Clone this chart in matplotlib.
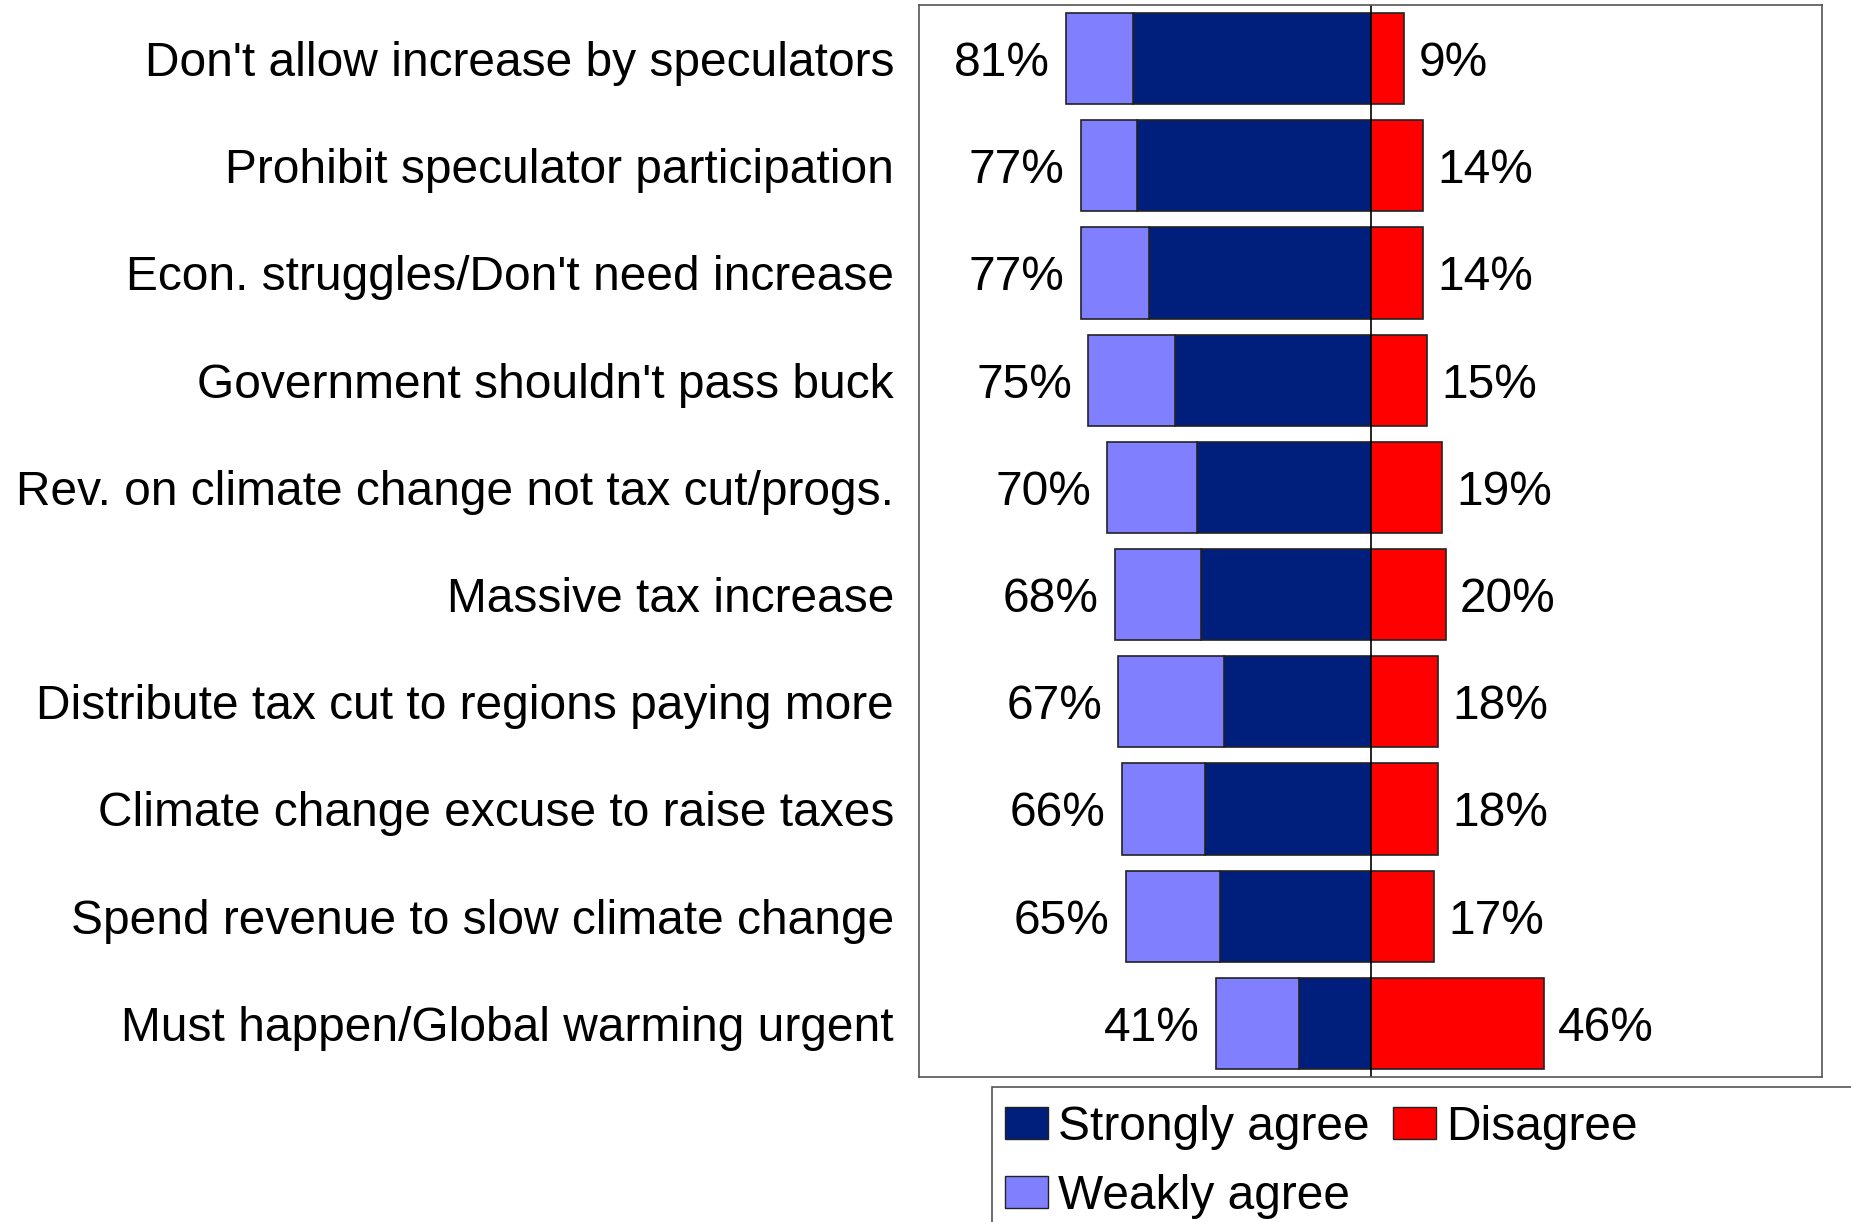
import numpy as np
import matplotlib.pyplot as plt
import matplotlib.patches as mpatches

plt.rcParams['font.family'] = ['Liberation Sans', 'DejaVu Sans']

# survey items, top to bottom
items = ["Don't allow increase by speculators",
         "Prohibit speculator participation",
         "Econ. struggles/Don't need increase",
         "Government shouldn't pass buck",
         "Rev. on climate change not tax cut/progs.",
         "Massive tax increase",
         "Distribute tax cut to regions paying more",
         "Climate change excuse to raise taxes",
         "Spend revenue to slow climate change",
         "Must happen/Global warming urgent"]
strongly = [63, 62, 59, 52, 46, 45, 39, 44, 40, 19]
weakly = [18, 15, 18, 23, 24, 23, 28, 22, 25, 22]
disagree = [9, 14, 14, 15, 19, 20, 18, 18, 17, 46]
agree_total = [81, 77, 77, 75, 70, 68, 67, 66, 65, 41]

C_STRONG = '#001F7C'
C_WEAK = '#8080FF'
C_DIS = '#FF0000'
FS = 34.5

fig = plt.figure(figsize=(18.51, 12.22), dpi=100)
ax = fig.add_axes([919 / 1851, 1 - 1077 / 1222, 903 / 1851, 1072 / 1222])

y = np.arange(len(items))
s = np.array(strongly)
w = np.array(weakly)
d = np.array(disagree)
h = 0.85
ax.barh(y, -s, height=h, color=C_STRONG, edgecolor='#222222', linewidth=1.2)
ax.barh(y, -w, left=-s, height=h, color=C_WEAK, edgecolor='#222222', linewidth=1.2)
ax.barh(y, d, height=h, color=C_DIS, edgecolor='#222222', linewidth=1.2)

ax.axvline(0, color='black', linewidth=1.2)

for i in range(len(items)):
    ax.text(-(s[i] + w[i]) - 4.3, y[i], '{}%'.format(agree_total[i]),
            ha='right', va='center_baseline', fontsize=FS)
    ax.text(d[i] + 3.8, y[i], '{}%'.format(d[i]),
            ha='left', va='center_baseline', fontsize=FS)

ax.set_xlim(-120, 120)
ax.set_ylim(len(items) - 0.5, -0.5)
ax.set_xticks([])
ax.set_yticks(y)
ax.set_yticklabels(items, fontsize=FS)
ax.tick_params(axis='y', length=0, pad=18)
for sp in ax.spines.values():
    sp.set_color('#555555')
    sp.set_linewidth(1.2)

# legend box running off the figure edge
box = mpatches.Rectangle((992 / 1851, -0.1), 1.0, 1 - 1087 / 1222 + 0.1,
                         transform=fig.transFigure, facecolor='white',
                         edgecolor='#555555', linewidth=1.2, clip_on=False)
fig.patches.append(box)

handles = [mpatches.Patch(facecolor=C_STRONG, edgecolor='#222222', label='Strongly agree'),
           mpatches.Patch(facecolor=C_WEAK, edgecolor='#222222', label='Weakly agree'),
           mpatches.Patch(facecolor=C_DIS, edgecolor='#222222', label='Disagree')]
fig.legend(handles=handles, ncol=2, loc='upper left',
           bbox_to_anchor=(1005 / 1851, 1 - 1105 / 1222), frameon=False,
           fontsize=FS, handlelength=0.9, handleheight=0.65, handletextpad=0.2,
           columnspacing=0.5, labelspacing=0.5, borderpad=0.0,
           borderaxespad=0.0)

fig.savefig('out.png', dpi=100)
